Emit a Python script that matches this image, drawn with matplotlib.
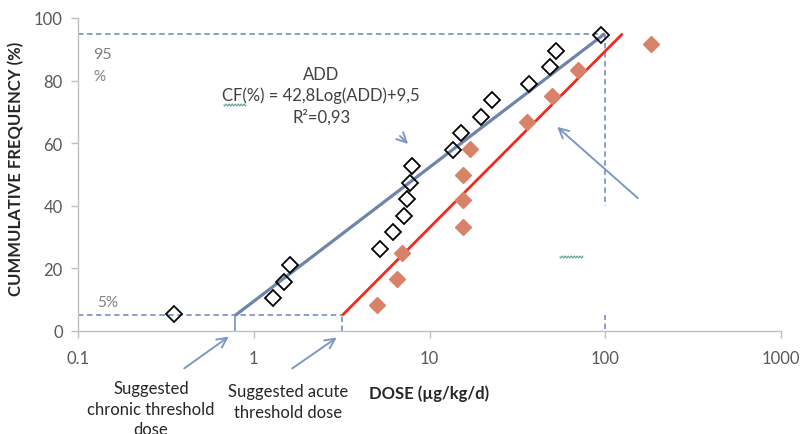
import matplotlib
matplotlib.use("Agg")
import matplotlib.pyplot as plt
from matplotlib.lines import Line2D
import numpy as np

plt.rcParams['font.family'] = ['Lato', 'DejaVu Sans']

# ADD (chronic) data - open diamonds
add_dose = [0.35, 1.29, 1.49, 1.61, 5.2, 6.2, 7.2, 7.4, 7.7, 7.9,
            13.6, 15.1, 19.6, 22.7, 37.0, 48.6, 52.2, 94.2]
add_cf = [5.3, 10.5, 15.8, 21.0, 26.3, 31.6, 36.8, 42.1, 47.4, 52.6,
          57.9, 63.2, 68.4, 73.7, 78.9, 84.2, 89.5, 94.7]

# Acute data - filled diamonds
acute_dose = [5.0, 6.5, 6.95, 15.5, 15.5, 15.6, 17.0, 35.7, 49.5, 70.3, 181.6]
acute_cf = [8.3, 16.7, 25.0, 33.3, 41.7, 50.0, 58.3, 66.7, 75.0, 83.3, 91.7]

# fitted lines (endpoints at 5% and 95%)
add_fit_x = [0.785, 99.5]
add_fit_y = [5, 95]
acute_fit_x = [3.19, 125.6]
acute_fit_y = [5, 95]

chronic_thr = 0.785
acute_thr = 3.19

xticks = [0.1, 1, 10, 100, 1000]
xticklabels = ["0.1", "1", "10", "100", "1000"]
yticks = [0, 20, 40, 60, 80, 100]

fig = plt.figure(figsize=(8.01, 4.35), dpi=100)
ax = fig.add_axes([78/801, 1-332/435, (781-78)/801, 313/435])
ax.set_xscale('log')
ax.set_xlim(0.1, 1000)
ax.set_ylim(0, 100)

dash_c = '#7f97c5'
# dashed guide lines
ax.plot([0.1, 100], [95, 95], ls=(0, (3, 2)), color=dash_c, lw=1.3, zorder=1)
ax.plot([100, 100], [95, 40], ls=(0, (3, 2)), color=dash_c, lw=1.3, zorder=1)
ax.plot([100, 100], [0.5, 5], ls=(0, (3, 2)), color=dash_c, lw=1.3, zorder=1)
ax.plot([0.1, acute_thr], [5, 5], ls=(0, (3, 2)), color=dash_c, lw=1.3, zorder=1)
ax.plot([chronic_thr, chronic_thr], [0, 5], ls='-', color=dash_c, lw=1.3, zorder=1)
ax.plot([acute_thr, acute_thr], [0, 5], ls=(0, (3, 2)), color=dash_c, lw=1.3, zorder=1)

# fit lines
ax.plot(add_fit_x, add_fit_y, color='#6e84a8', lw=2.3, zorder=2, solid_capstyle='butt')
ax.plot(acute_fit_x, acute_fit_y, color='#f5281e', lw=2.0, zorder=2, solid_capstyle='butt')

# points
ax.plot(acute_dose, acute_cf, ls='none', marker='D', ms=8.5, color='#d9826a',
        mec='#d9826a', zorder=3)
ax.plot(add_dose, add_cf, ls='none', marker='D', ms=8.5, mfc='none',
        mec='black', mew=1.3, zorder=4)

# axes styling
for s in ['top', 'right']:
    ax.spines[s].set_visible(False)
for s in ['left', 'bottom']:
    ax.spines[s].set_color('#bfbfbf')
    ax.spines[s].set_linewidth(1.0)
ax.set_xticks(xticks)
ax.set_xticklabels(xticklabels)
ax.minorticks_off()
ax.set_yticks(yticks)
ax.tick_params(axis='both', colors='#bfbfbf', labelcolor='#595959', labelsize=12,
               length=5, width=1.0, direction='out')
ax.tick_params(axis='x', pad=9)
ax.tick_params(axis='y', pad=6)

ax.set_xlabel('DOSE (µg/kg/d)', fontsize=12, fontweight='bold', color='#262626', labelpad=2)
ax.xaxis.set_label_coords(0.5, -0.17)
ax.set_ylabel('CUMMULATIVE FREQUENCY (%)', fontsize=12, fontweight='bold', color='#262626')
ax.yaxis.set_label_coords(-0.076, 0.52)

# annotations
txt_c = '#404040'
ax.text(0.1217, 88.5, '95', fontsize=11.5, color='#7f7f7f', ha='left', va='center')
ax.text(0.1217, 81.5, '%', fontsize=11, color='#7f7f7f', ha='left', va='center')
ax.text(0.128, 9.3, '5%', fontsize=11, color='#7f7f7f', ha='left', va='center')
ax.text(2.42, 82.1, 'ADD', fontsize=12, color=txt_c, ha='center', va='center')
ax.text(2.42, 75.4, 'CF(%) = 42,8Log(ADD)+9,5', fontsize=12, color=txt_c, ha='center', va='center')
ax.text(2.42, 68.7, 'R²=0,93', fontsize=12, color=txt_c, ha='center', va='center')

arrow_c = '#7f97c5'
def arr(x0, y0, x1, y1):
    ax.annotate('', xy=(x1, y1), xytext=(x0, y0), xycoords='data', textcoords='data',
                arrowprops=dict(arrowstyle='->,head_length=0.7,head_width=0.35',
                                color=arrow_c, lw=1.4),
                annotation_clip=False)

# helper to convert pixel coordinates to data via axes transforms
def px2data(px, py):
    disp = (px, 435 - py)
    return ax.transData.inverted().transform(disp)

fig.canvas.draw()
for (a, b, c, d) in [(398, 135, 410, 147), (640, 201, 555, 126),
                     (182, 371, 231, 336), (290, 371, 339, 337)]:
    x0, y0 = px2data(a, b)
    x1, y1 = px2data(c, d)
    arr(x0, y0, x1, y1)

# spell-check squiggles present in the source image
def squiggle(x0, x1, y):
    xs = np.linspace(x0, x1, 40)
    ys = y + 1.0 * np.sin((xs - x0) / 3.0 * 2 * np.pi)
    fig.add_artist(Line2D(xs / 801, 1 - ys / 435, color='#5fa88a', lw=0.8))
squiggle(224, 246, 106)
squiggle(560, 583, 258)

fig.text(151/801, 1-389/435, 'Suggested', fontsize=12, color='#262626', ha='center', va='center')
fig.text(151/801, 1-410/435, 'chronic threshold', fontsize=12, color='#262626', ha='center', va='center')
fig.text(151/801, 1-430/435, 'dose', fontsize=12, color='#262626', ha='center', va='center')
fig.text(288/801, 1-392/435, 'Suggested acute', fontsize=12, color='#262626', ha='center', va='center')
fig.text(288/801, 1-413/435, 'threshold dose', fontsize=12, color='#262626', ha='center', va='center')

fig.savefig('out.png', dpi=100)
